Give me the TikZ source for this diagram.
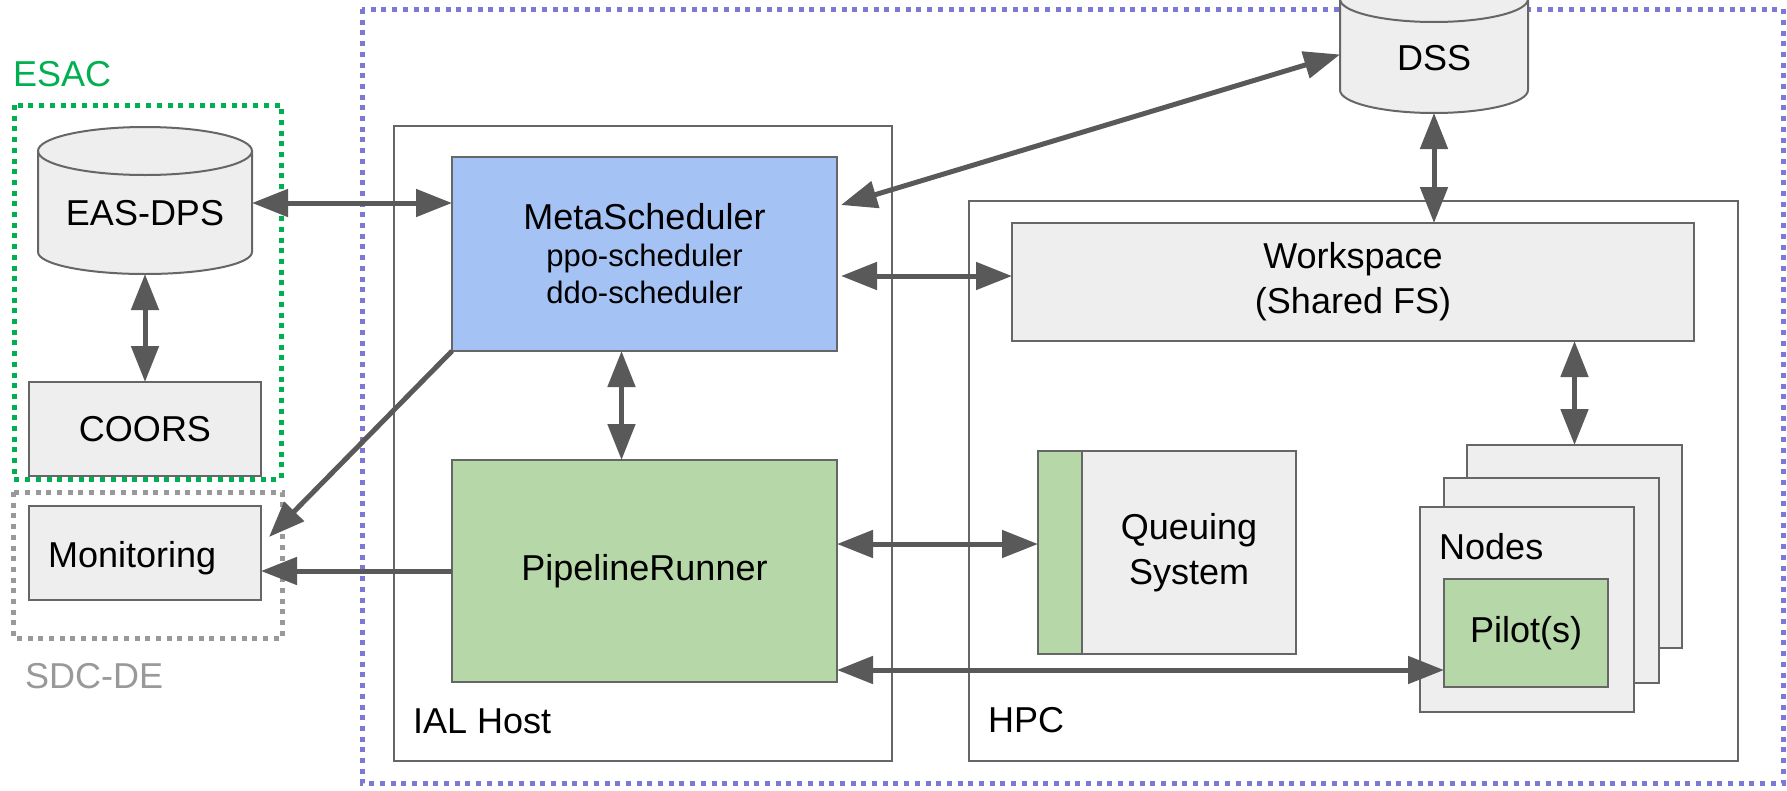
\documentclass[tikz,border=0pt]{standalone}
\usepackage{fontspec}
\setmainfont{Liberation Sans}
\usetikzlibrary{arrows.meta,calc}
\definecolor{boxgray}{HTML}{EEEEEE}
\definecolor{linegray}{HTML}{666666}
\definecolor{arrgray}{HTML}{595959}
\definecolor{metablue}{HTML}{A4C2F4}
\definecolor{runnergreen}{HTML}{B6D7A8}
\definecolor{esacgreen}{HTML}{00B050}
\definecolor{sdcgray}{HTML}{999999}
\definecolor{facblue}{HTML}{7B78D6}
\begin{document}
\begin{tikzpicture}[x=1pt,y=-1pt]
    \tikzstyle{box}=[rectangle,draw=linegray,fill=boxgray,line width=2pt,inner sep=0pt,outer sep=0pt,font=\fontsize{36}{45}\selectfont,align=center]
    \tikzstyle{dbline}=[draw=linegray,fill=boxgray,line width=2pt]
    \tikzstyle{spot}=[rectangle,inner sep=0pt,outer sep=0pt]
    \tikzstyle{host}=[draw=linegray,line width=2pt]
    \tikzstyle{dots}=[line width=5pt,dash pattern=on 5pt off 5.7pt]
    \tikzstyle{lbl}=[anchor=base west,inner sep=0pt,font=\fontsize{36}{45}\selectfont]
    \tikzstyle{link}=[line width=5pt,draw=arrgray,{Triangle[length=36pt,width=27pt]}-{Triangle[length=36pt,width=27pt]}]
    \tikzstyle{tolink}=[line width=5pt,draw=arrgray,-{Triangle[length=36pt,width=27pt]}]
    \useasboundingbox (0,0) rectangle (1787,790);
    % regions
    \draw[dots,draw=facblue] (362,9) rectangle (1783,783);
    \draw[dots,draw=esacgreen] (14,105) rectangle (281,479);
    \draw[dots,draw=sdcgray] (13,492) rectangle (282,638);
    \draw[host] (394,126) rectangle (892,761);
    \draw[host] (969,201) rectangle (1738,761);
    \node[lbl,text=esacgreen] (esac) at (13,86) {ESAC};
    \node[lbl,text=sdcgray] (sdc) at (25,688) {SDC-DE};
    \node[lbl] (ial) at (413,733) {IAL Host};
    \node[lbl] (hpc) at (988,732) {HPC};
    % cylinders
    \draw[dbline] (38,151) -- (38,252) arc[start angle=180,end angle=0,x radius=107,y radius=22]
        -- (252,151) arc[start angle=0,end angle=-180,x radius=107,y radius=24] -- cycle;
    \draw[dbline,fill=none] (38,151) arc[start angle=180,end angle=0,x radius=107,y radius=24];
    \draw[dbline] (1340,-1) -- (1340,90) arc[start angle=180,end angle=0,x radius=94,y radius=23]
        -- (1528,-1) arc[start angle=0,end angle=-180,x radius=94,y radius=23] -- cycle;
    \draw[dbline,fill=none] (1340,-1) arc[start angle=180,end angle=0,x radius=94,y radius=23];
    \node[spot,minimum width=214,minimum height=147] (eas) at (145,200.5) {};
    \node[lbl,anchor=base] (eastxt) at (145,225) {EAS-DPS};
    \node[spot,minimum width=188,minimum height=137] (dss) at (1434,44.5) {};
    \node[lbl,anchor=base] (dsstxt) at (1434,70) {DSS};
    % left side
    \node[box,minimum width=232,minimum height=94] (coors) at (145,429) {COORS};
    \node[box,minimum width=232,minimum height=94] (mon) at (145,553) {};
    \node[lbl] (montxt) at (48,567) {Monitoring};
    % IAL host
    \node[box,fill=metablue,minimum width=385,minimum height=194,font=\fontsize{31}{37}\selectfont] (meta) at (644.5,254) {{\fontsize{36}{40}\selectfont MetaScheduler}\\ppo-scheduler\\ddo-scheduler};
    \node[box,fill=runnergreen,minimum width=385,minimum height=222] (pr) at (644.5,571) {PipelineRunner};
    % HPC
    \node[box,minimum width=682,minimum height=118] (ws) at (1353,282) {Workspace\\(Shared FS)};
    \node[box,minimum width=214,minimum height=203] (qs) at (1189,552.5) {Queuing\\System};
    \node[box,fill=runnergreen,minimum width=44,minimum height=203] (qstrip) at (1060,552.5) {};
    \node[box,minimum width=215,minimum height=203] (nb) at (1574.5,546.5) {};
    \node[box,minimum width=215,minimum height=205] (nm) at (1551.5,580.5) {};
    \node[box,minimum width=214,minimum height=205] (nf) at (1527,609.5) {};
    \node[lbl] (ntxt) at (1439,559) {Nodes};
    \node[box,fill=runnergreen,minimum width=164,minimum height=108] (pilot) at (1526,633) {Pilot(s)};
    % links
    \coordinate (e1) at ($(eas.east)+(0,2.5)$);
    \coordinate (d1) at ($(dss.west)+(0,10)$);
    \coordinate (m1) at ($(meta.east)+(4,22)$);
    \coordinate (m2) at ($(meta.south)+(-23,0)$);
    \coordinate (m3) at ($(mon.east)+(8,-16)$);
    \coordinate (p1) at ($(pr.east)+(0,-27)$);
    \coordinate (p2) at ($(pr.east)+(0,99)$);
    \draw[link] (e1) -- (e1 -| meta.west);
    \draw[link] (eas.south) -- (coors.north);
    \draw[link] ($(meta.north east)+(4,48)$) -- (d1);
    \draw[link] (dss.south) -- (dss.south |- ws.north);
    \draw[link] (m1) -- (m1 -| ws.west);
    \draw[link] (m2) -- (m2 |- pr.north);
    \draw[tolink] (meta.south west) -- (m3);
    \draw[tolink] (pr.west) -- (pr.west -| mon.east);
    \draw[link] (p1) -- (p1 -| qstrip.west);
    \draw[link] (p2) -- (p2 -| pilot.west);
    \draw[link] (ws.south -| nb.north) -- (nb.north);
\end{tikzpicture}
\end{document}
